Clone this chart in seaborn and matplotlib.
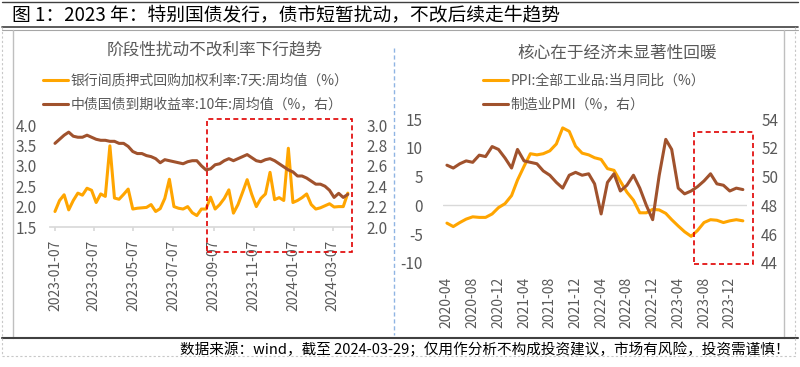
import pandas as pd
import matplotlib
matplotlib.use("Agg")
import matplotlib.pyplot as plt
from matplotlib.lines import Line2D
from matplotlib.patches import Rectangle
import seaborn as sns

# ----------------------------------------------------------------------------------
# Data
# ----------------------------------------------------------------------------------
# left panel: weekly averages, 2023-01-07 .. 2024-03-30
repo_7d = [1.88, 2.15, 2.29, 1.92, 2.15, 2.33, 2.28, 2.45, 2.40, 2.10,
           2.31, 2.25, 3.49, 2.21, 2.18, 2.30, 2.43, 1.94, 1.96, 1.97,
           1.98, 2.05, 1.88, 1.95, 2.20, 2.67, 2.00, 1.96, 1.94, 2.00,
           1.85, 1.78, 1.94, 1.94, 2.23, 1.94, 2.05, 2.20, 2.41, 1.84,
           2.05, 2.35, 2.66, 2.30, 2.00, 2.20, 2.31, 2.84, 2.17, 2.22,
           2.15, 3.43, 2.10, 2.15, 2.22, 2.31, 2.05, 1.94, 1.97, 2.02,
           2.07, 1.99, 2.00, 2.00, 2.33]
cgb_10y = [2.82, 2.86, 2.90, 2.93, 2.89, 2.88, 2.88, 2.90, 2.88, 2.86,
           2.85, 2.85, 2.84, 2.84, 2.82, 2.82, 2.79, 2.74, 2.72, 2.72,
           2.70, 2.69, 2.67, 2.63, 2.66, 2.65, 2.64, 2.63, 2.62, 2.64,
           2.65, 2.65, 2.60, 2.56, 2.57, 2.61, 2.62, 2.65, 2.67, 2.65,
           2.67, 2.69, 2.71, 2.68, 2.65, 2.64, 2.66, 2.67, 2.65, 2.62,
           2.59, 2.56, 2.54, 2.50, 2.50, 2.48, 2.45, 2.42, 2.42, 2.40,
           2.36, 2.29, 2.33, 2.29, 2.32]
week_dates = pd.date_range("2023-01-07", periods=len(repo_7d), freq="7D")
left_ticks = ["2023-01-07", "2023-03-07", "2023-05-07", "2023-07-07",
              "2023-09-07", "2023-11-07", "2024-01-07", "2024-03-07"]

# right panel: monthly, 2020-04 .. 2024-02
ppi = [-3.1, -3.7, -3.0, -2.4, -2.0, -2.1, -2.1, -1.5, -0.4,
       0.3, 1.7, 4.4, 6.8, 9.0, 8.8, 9.0, 9.5, 10.7, 13.5, 12.9, 10.3,
       9.1, 8.8, 8.3, 8.0, 6.4, 6.1, 4.2, 2.3, 0.9, -1.3, -1.3, -0.7,
       -0.8, -1.4, -2.5, -3.6, -4.6, -5.4, -4.4, -3.0, -2.5, -2.6, -3.0, -2.7,
       -2.5, -2.7]
pmi = [50.8, 50.6, 50.9, 51.1, 51.0, 51.5, 51.4, 52.1, 51.9,
       51.3, 50.6, 51.9, 51.1, 51.0, 50.9, 50.4, 50.1, 49.6, 49.2, 50.1, 50.3,
       50.1, 50.2, 49.5, 47.4, 49.6, 50.2, 49.0, 49.4, 50.1, 49.2, 48.0, 47.0,
       50.1, 52.6, 51.9, 49.2, 48.8, 49.0, 49.3, 49.7, 50.2, 49.5, 49.4, 49.0,
       49.2, 49.1]
month_dates = pd.date_range("2020-04-01", periods=len(ppi), freq="MS")
right_ticks = ["2020-04", "2020-08", "2020-12", "2021-04", "2021-08", "2021-12",
               "2022-04", "2022-08", "2022-12", "2023-04", "2023-08", "2023-12"]

ORANGE = "#FFA500"
BROWN = "#A0522D"
GRAY = "#595959"
W, H = 800, 367


def fx(x):
    return x / W


def fy(y):
    return 1 - y / H


def style_axes(ax):
    for s in ax.spines.values():
        s.set_visible(False)
    ax.grid(False)


# ----------------------------------------------------------------------------------
# Figure
# ----------------------------------------------------------------------------------
sns.set_theme(style="white")
plt.rcParams["font.family"] = ["Noto Sans CJK SC", "DejaVu Sans"]
plt.rcParams["axes.unicode_minus"] = False

fig = plt.figure(figsize=(W / 100, H / 100), dpi=100)

# ---- left panel ----
ax1 = fig.add_axes([fx(50.4), fy(227), fx(302), 102 / H])
sns.lineplot(x=week_dates, y=repo_7d, ax=ax1, color=ORANGE, lw=2.2)
ax1.set_ylim(1.5, 4.0)
ax1.set_yticks([1.5, 2.0, 2.5, 3.0, 3.5, 4.0])
ax1.set_yticklabels([f"{v:.1f}" for v in ax1.get_yticks()])
ax1.set_xlim(week_dates[0] - pd.Timedelta(days=7), week_dates[-1] + pd.Timedelta(days=7))
ax1.set_xticks(pd.to_datetime(left_ticks))
ax1.set_xticklabels(left_ticks, rotation=90)
ax1.set_xlabel("")
ax1.set_ylabel("")
style_axes(ax1)
ax1.spines["bottom"].set_visible(True)
ax1.spines["bottom"].set_color("#D9D9D9")
ax1.tick_params(axis="x", length=3, color="#D9D9D9", pad=6, labelsize=10, labelcolor=GRAY, bottom=True)
ax1.tick_params(axis="y", length=0, pad=10, labelsize=11, labelcolor=GRAY)

ax1r = ax1.twinx()
sns.lineplot(x=week_dates, y=cgb_10y, ax=ax1r, color=BROWN, lw=2.2)
ax1r.set_ylim(2.0, 3.0)
ax1r.set_yticks([2.0, 2.2, 2.4, 2.6, 2.8, 3.0])
ax1r.set_yticklabels([f"{v:.1f}" for v in ax1r.get_yticks()])
ax1r.set_ylabel("")
style_axes(ax1r)
ax1r.tick_params(axis="y", length=0, pad=10, labelsize=11, labelcolor=GRAY)

ax1.add_patch(Rectangle((pd.Timestamp("2023-08-27"), 0.89),
                        pd.Timestamp("2024-04-06") - pd.Timestamp("2023-08-27"), 4.15 - 0.89,
                        fill=False, ec="#E00000", ls=(0, (3, 2)), lw=1.2, clip_on=False, zorder=5))

fig.text(fx(215), fy(50), "阶段性扰动不改利率下行趋势", ha="center", va="center",
         fontsize=12, color=GRAY)
fig.legend(handles=[Line2D([], [], color=ORANGE, lw=2.2), Line2D([], [], color=BROWN, lw=2.2)],
           labels=["银行间质押式回购加权利率:7天:周均值（%）", "中债国债到期收益率:10年:周均值（%，右）"],
           loc="upper left", bbox_to_anchor=(fx(43), fy(74)), frameon=False, fontsize=10,
           handlelength=1.8, handletextpad=0.2, labelspacing=0.7, borderpad=0, borderaxespad=0,
           labelcolor=GRAY)

# ---- right panel ----
ax2 = fig.add_axes([fx(442.5), fy(262.7), fx(304.8), 143.4 / H])
ax2.axhline(0, color="#D9D9D9", lw=1, zorder=0)
sns.lineplot(x=month_dates, y=ppi, ax=ax2, color=ORANGE, lw=2.2)
ax2.set_ylim(-10, 15)
ax2.set_yticks([-10, -5, 0, 5, 10, 15])
ax2.set_xlim(month_dates[0] - pd.Timedelta(days=21), month_dates[-1] + pd.Timedelta(days=21))
ax2.set_xticks(pd.to_datetime(right_ticks))
ax2.set_xticklabels(right_ticks, rotation=90)
ax2.set_xlabel("")
ax2.set_ylabel("")
style_axes(ax2)
ax2.tick_params(axis="x", length=0, pad=10, labelsize=10, labelcolor=GRAY)
ax2.tick_params(axis="y", length=0, pad=14, labelsize=11, labelcolor=GRAY)

ax2r = ax2.twinx()
sns.lineplot(x=month_dates, y=pmi, ax=ax2r, color=BROWN, lw=2.2)
ax2r.set_ylim(44, 54)
ax2r.set_yticks([44, 46, 48, 50, 52, 54])
ax2r.set_ylabel("")
style_axes(ax2r)
ax2r.tick_params(axis="y", length=0, pad=10, labelsize=11, labelcolor=GRAY)

ax2.add_patch(Rectangle((pd.Timestamp("2023-06-13"), -10.2),
                        pd.Timestamp("2024-03-22") - pd.Timestamp("2023-06-13"), 12.8 + 10.2,
                        fill=False, ec="#E00000", ls=(0, (3, 2)), lw=1.2, clip_on=False, zorder=5))

fig.text(fx(617), fy(53), "核心在于经济未显著性回暖", ha="center", va="center",
         fontsize=12, color=GRAY)
fig.legend(handles=[Line2D([], [], color=ORANGE, lw=2.2), Line2D([], [], color=BROWN, lw=2.2)],
           labels=["PPI:全部工业品:当月同比（%）", "制造业PMI（%，右）"],
           loc="upper left", bbox_to_anchor=(fx(483), fy(74)), frameon=False, fontsize=10,
           handlelength=1.8, handletextpad=0.2, labelspacing=0.7, borderpad=0, borderaxespad=0,
           labelcolor=GRAY)

# ---- frame, title and footer ----
def hline(y, x0, x1, **kw):
    fig.add_artist(Line2D([fx(x0), fx(x1)], [fy(y), fy(y)], transform=fig.transFigure, **kw))


def vline(x, y0, y1, **kw):
    fig.add_artist(Line2D([fx(x), fx(x)], [fy(y0), fy(y1)], transform=fig.transFigure, **kw))


hline(2, 2, 798, color="#404040", lw=1)
hline(27, 2, 798, color="#404040", lw=1.2)
hline(30, 2, 798, color="#A6A6A6", lw=0.8)
vline(13, 30, 338, color="#BFBFBF", lw=1)
vline(784, 30, 338, color="#BFBFBF", lw=1)
vline(394, 48, 335, color="#8FB4E3", lw=1, ls=(0, (3, 2)))
hline(338, 2, 798, color="#404040", lw=1.5)
hline(356, 2, 796, color="#C8C8C8", lw=0.8, ls=(0, (2, 2)))
vline(2, 27, 356, color="#C8C8C8", lw=0.8, ls=(0, (2, 2)))
vline(795, 27, 356, color="#C8C8C8", lw=0.8, ls=(0, (2, 2)))

fig.text(fx(12), fy(15), "图 1：2023 年：特别国债发行，债市短暂扰动，不改后续走牛趋势",
         ha="left", va="center", fontsize=13.5, color="black")
fig.text(fx(790), fy(349), "数据来源：wind，截至 2024-03-29；仅用作分析不构成投资建议，市场有风险，投资需谨慎！",
         ha="right", va="center", fontsize=10.5, color="black")

fig.savefig("out.png", dpi=100)
